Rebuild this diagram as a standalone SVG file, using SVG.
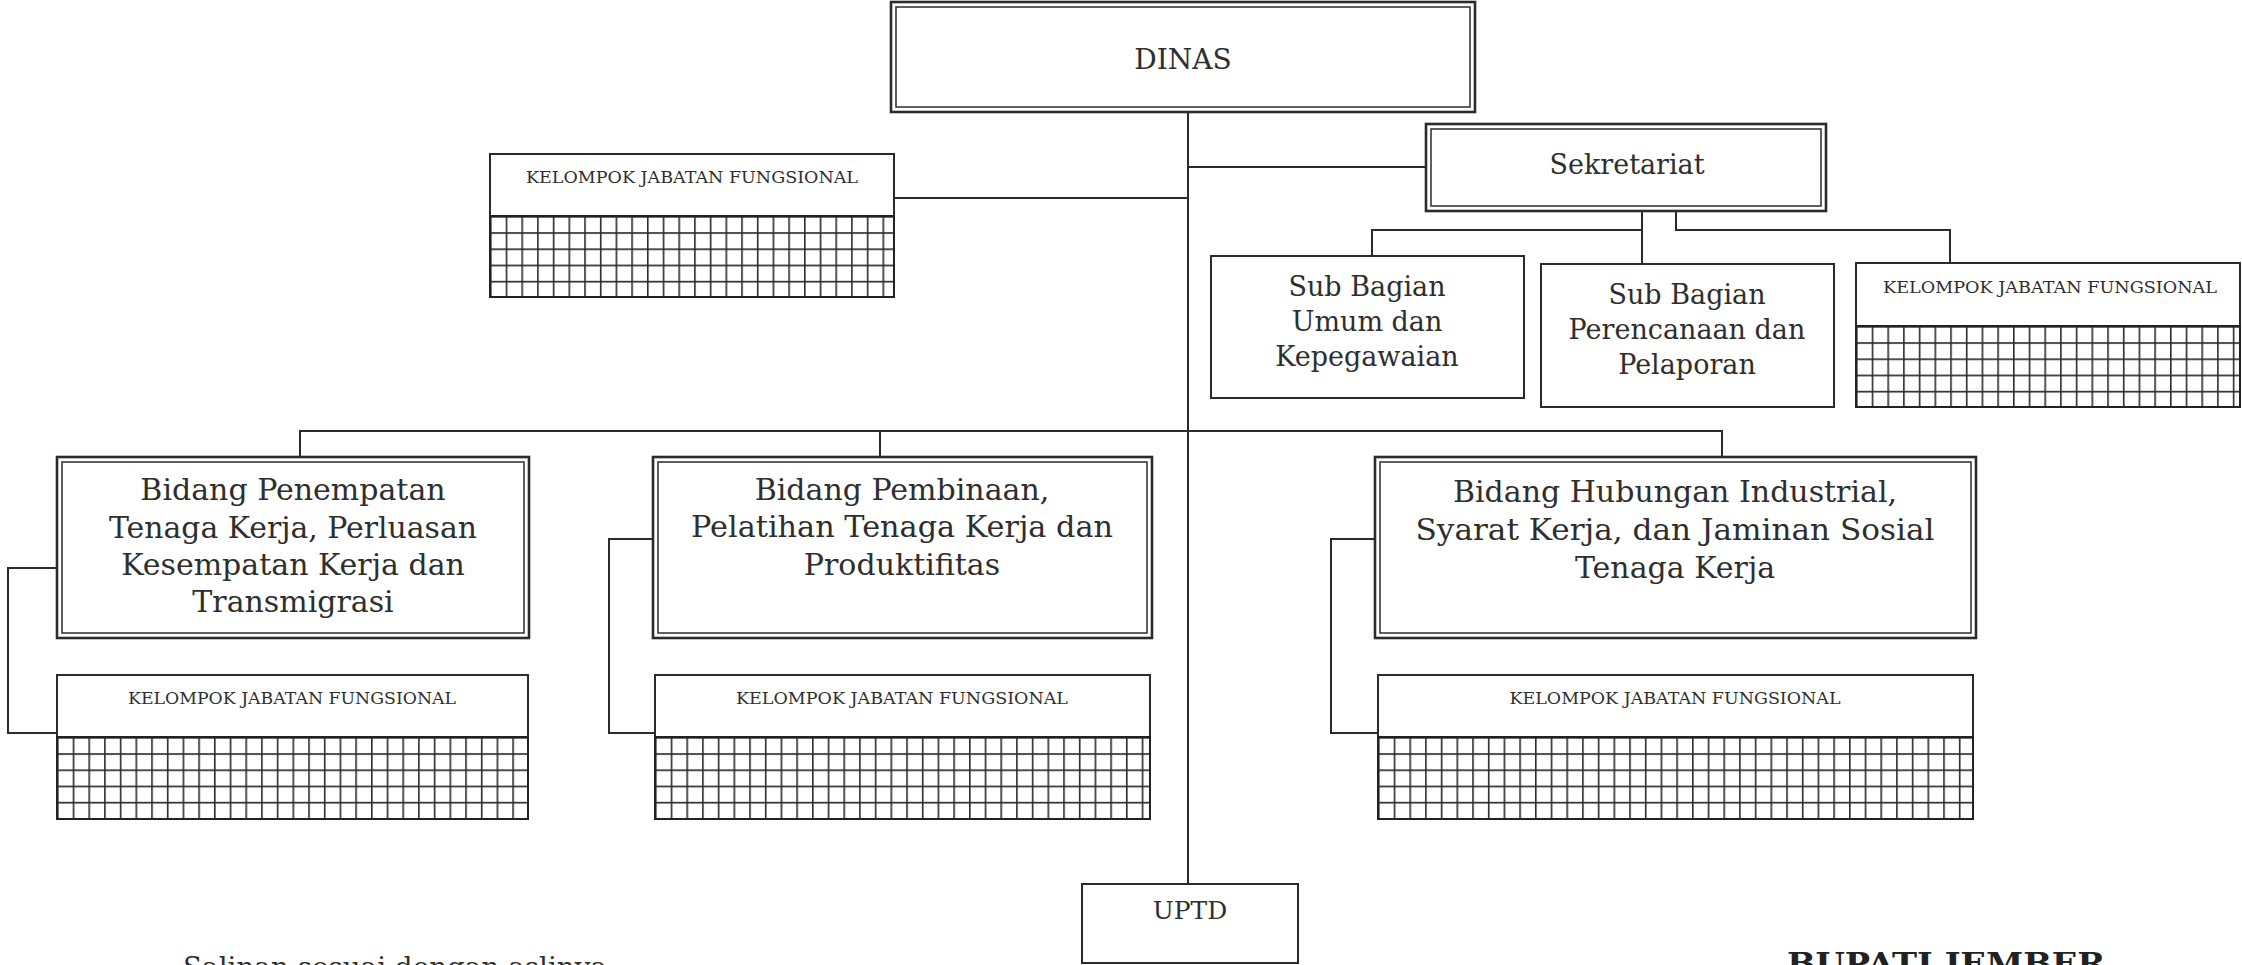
<svg xmlns="http://www.w3.org/2000/svg" width="2242" height="965" viewBox="0 0 2242 965">
<style>
.bg{fill:#ffffff}
.box{fill:#ffffff;stroke:#2b2b2b;stroke-width:2}
.outer{fill:#ffffff;stroke:#2b2b2b;stroke-width:2.6}
.inner{fill:none;stroke:#2b2b2b;stroke-width:1.5}
.gridbox{stroke:#222;stroke-width:2}
.ln{fill:none;stroke:#2b2b2b;stroke-width:2}
.t{font-family:"DejaVu Serif","Liberation Serif",serif;fill:#2e2e2e;text-anchor:middle}
.big{font-size:30px}
.mid{font-size:27px}
.kjf{font-size:17px}
.foot{font-family:"DejaVu Serif","Liberation Serif",serif;fill:#2e2e2e;font-size:27px}
.bup{font-family:"DejaVu Serif","Liberation Serif",serif;fill:#222;font-size:30px;font-weight:bold}
</style>
<defs>
<pattern id="grid" patternUnits="userSpaceOnUse" width="15.7" height="16.2">
<path d="M0.8 0V16.2M0 0.8H15.7" stroke="#2b2b2b" stroke-width="1.6" fill="none"/>
</pattern>
</defs>
<rect class="bg" x="0" y="0" width="2242" height="965"/>

<g id="connectors">
<path class="ln" d="M1188 112V884"/>
<path class="ln" d="M1188 167H1426"/>
<path class="ln" d="M894 198H1188"/>
<path class="ln" d="M1642 211V264M1372 256V230H1642"/>
<path class="ln" d="M1676 211V230H1950V263"/>
<path class="ln" d="M300 457V431H1722V457M880 431V457"/>
<path class="ln" d="M57 568H8V733H57"/>
<path class="ln" d="M653 539H609V733H655"/>
<path class="ln" d="M1375 539H1331V733H1378"/>
</g>

<g id="dinas">
<rect class="outer" x="891" y="2" width="584" height="110"/>
<rect class="inner" x="896" y="7" width="574" height="100"/>
<text class="t" x="1183" y="69" font-size="28">DINAS</text>
</g>

<g id="kjf-top">
<rect class="box" x="490" y="154" width="404" height="62"/>
<text class="t kjf" x="692" y="183" textLength="332" lengthAdjust="spacingAndGlyphs">KELOMPOK JABATAN FUNGSIONAL</text>
<g transform="translate(490,216)"><rect class="gridbox" width="404" height="81" fill="url(#grid)"/></g>
</g>

<g id="sekretariat">
<rect class="outer" x="1426" y="124" width="400" height="87"/>
<rect class="inner" x="1431" y="129" width="390" height="77"/>
<text class="t mid" x="1627" y="174">Sekretariat</text>
</g>

<g id="subbag-umum">
<rect class="box" x="1211" y="256" width="313" height="142"/>
<text class="t mid" x="1367" y="296">Sub Bagian</text>
<text class="t mid" x="1367" y="331">Umum dan</text>
<text class="t mid" x="1367" y="366">Kepegawaian</text>
</g>

<g id="subbag-perencanaan">
<rect class="box" x="1541" y="264" width="293" height="143"/>
<text class="t mid" x="1687" y="304">Sub Bagian</text>
<text class="t mid" x="1687" y="339">Perencanaan dan</text>
<text class="t mid" x="1687" y="374">Pelaporan</text>
</g>

<g id="kjf-sekretariat">
<rect class="box" x="1856" y="263" width="384" height="63"/>
<text class="t kjf" x="2050" y="293" textLength="334" lengthAdjust="spacingAndGlyphs">KELOMPOK JABATAN FUNGSIONAL</text>
<g transform="translate(1856,326)"><rect class="gridbox" width="384" height="81" fill="url(#grid)"/></g>
</g>

<g id="bidang-penempatan">
<rect class="outer" x="57" y="457" width="472" height="181"/>
<rect class="inner" x="62" y="462" width="462" height="171"/>
<text class="t big" x="293" y="500">Bidang Penempatan</text>
<text class="t big" x="293" y="538" textLength="368" lengthAdjust="spacingAndGlyphs">Tenaga Kerja, Perluasan</text>
<text class="t big" x="293" y="575">Kesempatan Kerja dan</text>
<text class="t big" x="293" y="612">Transmigrasi</text>
</g>

<g id="kjf-penempatan">
<rect class="box" x="57" y="675" width="471" height="62"/>
<text class="t kjf" x="292" y="704" textLength="328" lengthAdjust="spacingAndGlyphs">KELOMPOK JABATAN FUNGSIONAL</text>
<g transform="translate(57,737)"><rect class="gridbox" width="471" height="82" fill="url(#grid)"/></g>
</g>

<g id="bidang-pembinaan">
<rect class="outer" x="653" y="457" width="499" height="181"/>
<rect class="inner" x="658" y="462" width="489" height="171"/>
<text class="t big" x="902" y="500">Bidang Pembinaan,</text>
<text class="t big" x="902" y="537" textLength="422" lengthAdjust="spacingAndGlyphs">Pelatihan Tenaga Kerja dan</text>
<text class="t big" x="902" y="575">Produktifitas</text>
</g>

<g id="kjf-pembinaan">
<rect class="box" x="655" y="675" width="495" height="62"/>
<text class="t kjf" x="902" y="704" textLength="332" lengthAdjust="spacingAndGlyphs">KELOMPOK JABATAN FUNGSIONAL</text>
<g transform="translate(655,737)"><rect class="gridbox" width="495" height="82" fill="url(#grid)"/></g>
</g>

<g id="bidang-hubungan">
<rect class="outer" x="1375" y="457" width="601" height="181"/>
<rect class="inner" x="1380" y="462" width="591" height="171"/>
<text class="t big" x="1675" y="502">Bidang Hubungan Industrial,</text>
<text class="t big" x="1675" y="540" textLength="519" lengthAdjust="spacingAndGlyphs">Syarat Kerja, dan Jaminan Sosial</text>
<text class="t big" x="1675" y="578">Tenaga Kerja</text>
</g>

<g id="kjf-hubungan">
<rect class="box" x="1378" y="675" width="595" height="62"/>
<text class="t kjf" x="1675" y="704" textLength="331" lengthAdjust="spacingAndGlyphs">KELOMPOK JABATAN FUNGSIONAL</text>
<g transform="translate(1378,737)"><rect class="gridbox" width="595" height="82" fill="url(#grid)"/></g>
</g>

<g id="uptd">
<rect class="box" x="1082" y="884" width="216" height="79"/>
<text class="t" x="1190" y="919" font-size="25">UPTD</text>
</g>

<text class="foot" x="183" y="977" textLength="424" lengthAdjust="spacingAndGlyphs">Salinan sesuai dengan aslinya</text>
<text class="bup" x="1787" y="974" textLength="330" lengthAdjust="spacingAndGlyphs">BUPATI JEMBER,</text>
</svg>
